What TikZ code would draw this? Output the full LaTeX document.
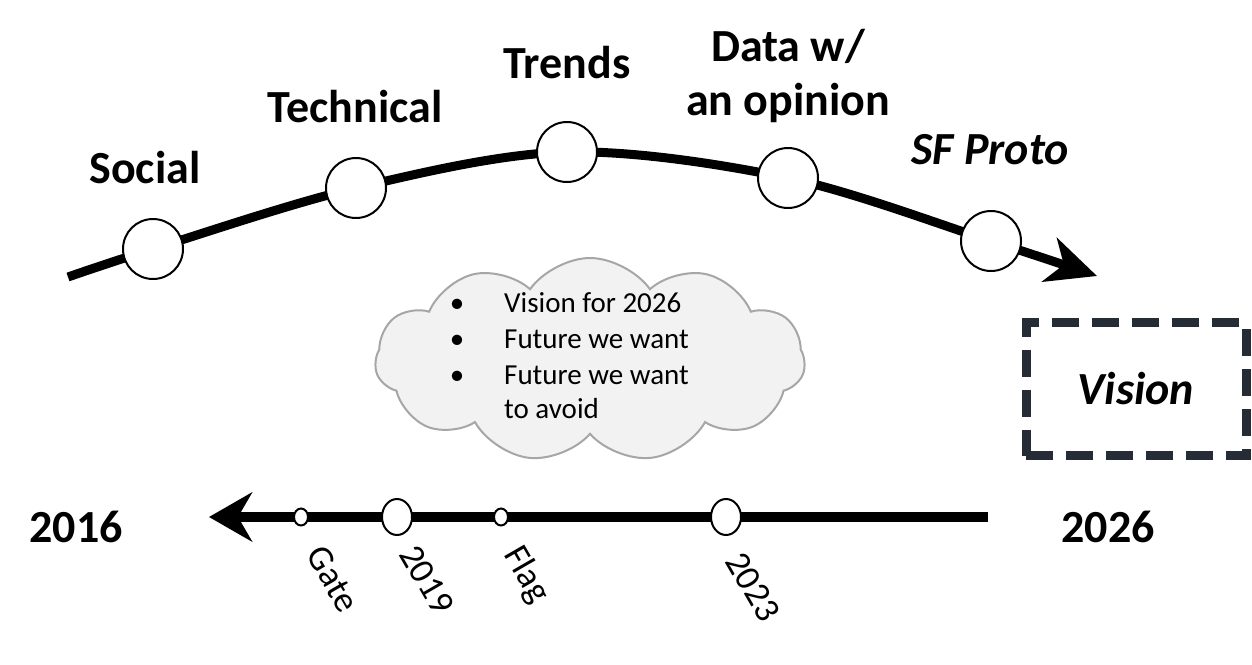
\documentclass[tikz,border=0pt]{standalone}
\usepackage{fontspec}
\setmainfont{Carlito}
\usetikzlibrary{arrows.meta,shapes.symbols,shapes.geometric}
\definecolor{cloudfill}{HTML}{F2F2F2}
\definecolor{cloudline}{HTML}{A6A6A6}
\definecolor{boxline}{HTML}{262C36}
\begin{document}
\begin{tikzpicture}[x=1pt,y=-1pt,
  bigdot/.style={circle, draw=black, line width=2pt, fill=white, minimum size=60pt, inner sep=0pt},
  ovaldot/.style={ellipse, draw=black, line width=2pt, fill=white, minimum width=30pt, minimum height=36pt, inner sep=0pt},
  smalldot/.style={ellipse, draw=black, line width=2pt, fill=white, minimum width=14pt, minimum height=17pt, inner sep=0pt},
  toplabel/.style={font=\fontsize{46}{54}\selectfont\bfseries, inner sep=0pt, align=center},
  yearlabel/.style={font=\fontsize{46}{54}\selectfont\bfseries, inner sep=0pt},
  ticklabel/.style={font=\fontsize{36}{36}\selectfont, rotate=-60, inner sep=0pt},
  cloudtext/.style={font=\fontsize{29}{35}\selectfont, inner sep=0pt, anchor=base west},
  bullet/.style={font=\fontsize{29}{35}\selectfont, inner sep=0pt, anchor=base}
]
\useasboundingbox (0,0) rectangle (1252,664);

% top curve
\coordinate (cstart) at (68,277);
\coordinate (ctip) at (1097,276);
\draw[line width=9pt, -{Stealth[length=50pt, width=46pt, inset=15pt]}]
  plot[smooth, tension=0.55] coordinates {(68,277) (153,249) (356,188) (567,152) (788,178) (991,241) (1097,276)};

\node[bigdot] (social) at (153,249) {};
\node[bigdot] (technical) at (356,188) {};
\node[bigdot] (trends) at (567,152) {};
\node[bigdot] (data) at (788,178) {};
\node[bigdot] (sfproto) at (991,241) {};

\node[toplabel] (lsocial) at (145,168) {Social};
\node[toplabel] (ltechnical) at (355,107) {Technical};
\node[toplabel] (ltrends) at (567,63) {Trends};
\node[toplabel] (ldata) at (788,76) {Data w/\\an opinion};
\node[toplabel, font=\fontsize{46}{54}\selectfont\bfseries\itshape] (lsf) at (990,150) {SF Proto};

% cloud
\node[cloud, cloud puffs=11, cloud puff arc=110, aspect=2.1, draw=cloudline, fill=cloudfill,
  line width=2pt, minimum width=430pt, minimum height=204pt, inner sep=0pt] (cloud) at (590,360) {};
\node[bullet] (b1) at (457,312) {\textbullet};
\node[bullet] (b2) at (457,348) {\textbullet};
\node[bullet] (b3) at (457,384) {\textbullet};
\node[cloudtext] (t1) at (504,312) {Vision for 2026};
\node[cloudtext] (t2) at (504,348) {Future we want};
\node[cloudtext] (t3) at (504,384) {Future we want};
\node[cloudtext] (t4) at (504,418) {to avoid};

% vision box
\node[draw=boxline, line width=9pt, dash pattern=on 27pt off 13pt, minimum width=220pt, minimum height=133pt,
  inner sep=0pt, font=\fontsize{46}{54}\selectfont\bfseries\itshape, text=black] (vision) at (1136,389) {Vision};

% bottom timeline
\coordinate (bstart) at (988,517);
\coordinate (btip) at (209,517);
\draw[line width=10pt, -{Stealth[length=43pt, width=49pt, inset=14pt]}] (bstart) -- (btip);

\node[smalldot] (gate) at (301,517) {};
\node[ovaldot] (y2019) at (397,517) {};
\node[smalldot] (flag) at (501,517) {};
\node[ovaldot] (y2023) at (726,517) {};

\node[ticklabel] (lgate) at (333,579) {Gate};
\node[ticklabel] (l2019) at (427,580) {2019};
\node[ticklabel] (lflag) at (526,575) {Flag};
\node[ticklabel] (l2023) at (753,587) {2023};

\node[yearlabel] (y2016) at (76,527) {2016};
\node[yearlabel] (y2026) at (1108,527) {2026};
\end{tikzpicture}
\end{document}
